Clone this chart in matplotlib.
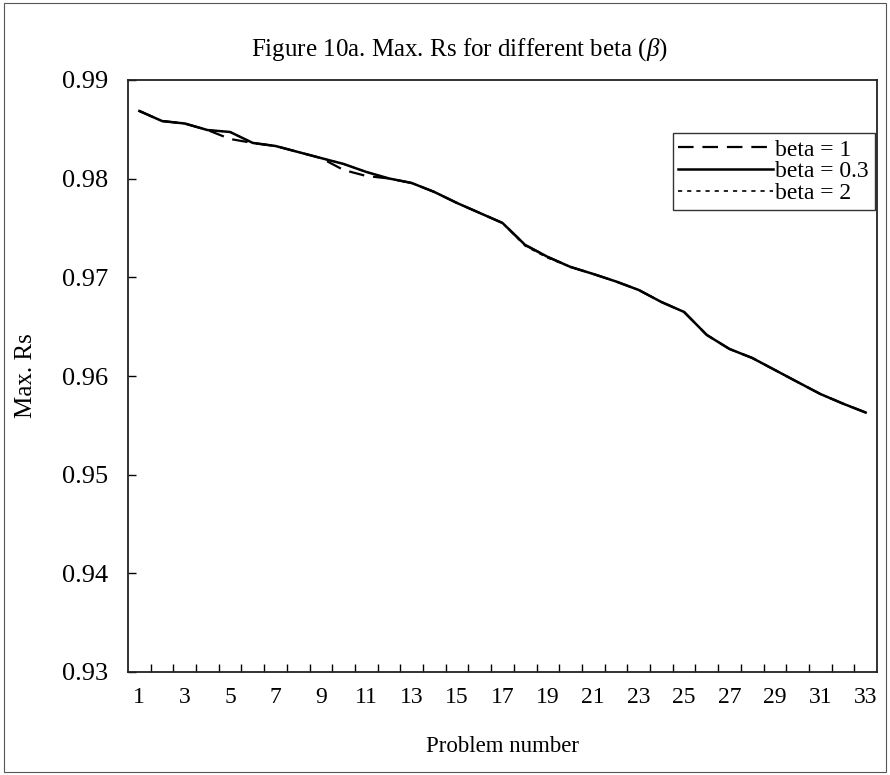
import numpy as np
import matplotlib
matplotlib.use("Agg")
import matplotlib.pyplot as plt
from matplotlib.patches import Rectangle

plt.rcParams['font.family'] = ['Liberation Serif', 'DejaVu Serif']
plt.rcParams['mathtext.fontset'] = 'custom'
plt.rcParams['mathtext.it'] = 'Liberation Serif:italic'

# data
problems = np.arange(1, 34)
beta_03 = [0.98686, 0.98584, 0.98559, 0.98493, 0.98473, 0.98362, 0.98331, 0.98270,
           0.98209, 0.98149, 0.98068, 0.98002, 0.97956, 0.97865, 0.97753, 0.97652,
           0.97551, 0.97328, 0.97206, 0.97105, 0.97034, 0.96958, 0.96872, 0.96750,
           0.96649, 0.96416, 0.96274, 0.96183, 0.96061, 0.95939, 0.95818, 0.95720,
           0.95630]
beta_1 = [0.98686, 0.98584, 0.98559, 0.98493, 0.98402, 0.98362, 0.98331, 0.98270,
          0.98209, 0.98088, 0.98027, 0.98002, 0.97956, 0.97865, 0.97753, 0.97652,
          0.97551, 0.97328, 0.97206, 0.97105, 0.97034, 0.96958, 0.96872, 0.96750,
          0.96649, 0.96416, 0.96274, 0.96183, 0.96061, 0.95939, 0.95818, 0.95720,
          0.95630]
beta_2 = [0.98686, 0.98584, 0.98559, 0.98493, 0.98473, 0.98362, 0.98331, 0.98270,
          0.98209, 0.98149, 0.98068, 0.98002, 0.97956, 0.97865, 0.97753, 0.97652,
          0.97551, 0.97318, 0.97196, 0.97105, 0.97034, 0.96958, 0.96872, 0.96750,
          0.96649, 0.96416, 0.96274, 0.96183, 0.96061, 0.95939, 0.95818, 0.95720,
          0.95630]
yticks = [0.93, 0.94, 0.95, 0.96, 0.97, 0.98, 0.99]

fig = plt.figure(figsize=(8.9, 7.75), dpi=100)
ax = fig.add_axes([128/890, 1 - 672/775, (877-128)/890, (672-80)/775])

ax.plot(problems, beta_1, color='black', lw=1.6, ls=(0, (7, 4)), label='beta = 1')
ax.plot(problems, beta_03, color='black', lw=1.8, ls='-', label='beta = 0.3')
ax.plot(problems, beta_2, color='black', lw=1.2, ls=(0, (2.5, 3)), label='beta = 2')

ax.set_xlim(0.5, 33.5)
ax.set_ylim(0.93, 0.99)
ax.set_yticks(yticks)
ax.set_yticklabels(['%.2f' % v for v in yticks])
ax.set_xticks(problems[::2])
ax.set_xticks(np.arange(1.5, 33, 1), minor=True)
ax.tick_params(axis='x', which='major', length=0, pad=11, labelsize=17)
ax.tick_params(axis='x', which='minor', direction='in', length=6, width=1)
ax.tick_params(axis='y', direction='in', length=6, width=1, pad=14, labelsize=19)

for s in ax.spines.values():
    s.set_linewidth(1.3)
    s.set_color('#222222')

ax.set_xlabel('Problem number', fontsize=16.5, labelpad=20)
ax.set_ylabel('Max. Rs', fontsize=18, labelpad=18)
fig.text(0.516, 1 - 50/775, r'Figure 10a. Max. Rs for different beta ($\mathit{\beta}$)',
         ha='center', va='center', fontsize=18)

leg = ax.legend(loc='upper right', bbox_to_anchor=(0.997, 0.91), fontsize=17,
                frameon=True, fancybox=False, handlelength=4.0, handletextpad=0.1,
                labelspacing=0.0, borderpad=0.25, borderaxespad=0)
leg.get_frame().set_edgecolor('black')
leg.get_frame().set_linewidth(1.0)

fig.patches.append(Rectangle((0.004, 0.004), 0.992, 0.992, transform=fig.transFigure,
                             fill=False, edgecolor='#555555', lw=0.8))

fig.savefig('out.png', dpi=100)
